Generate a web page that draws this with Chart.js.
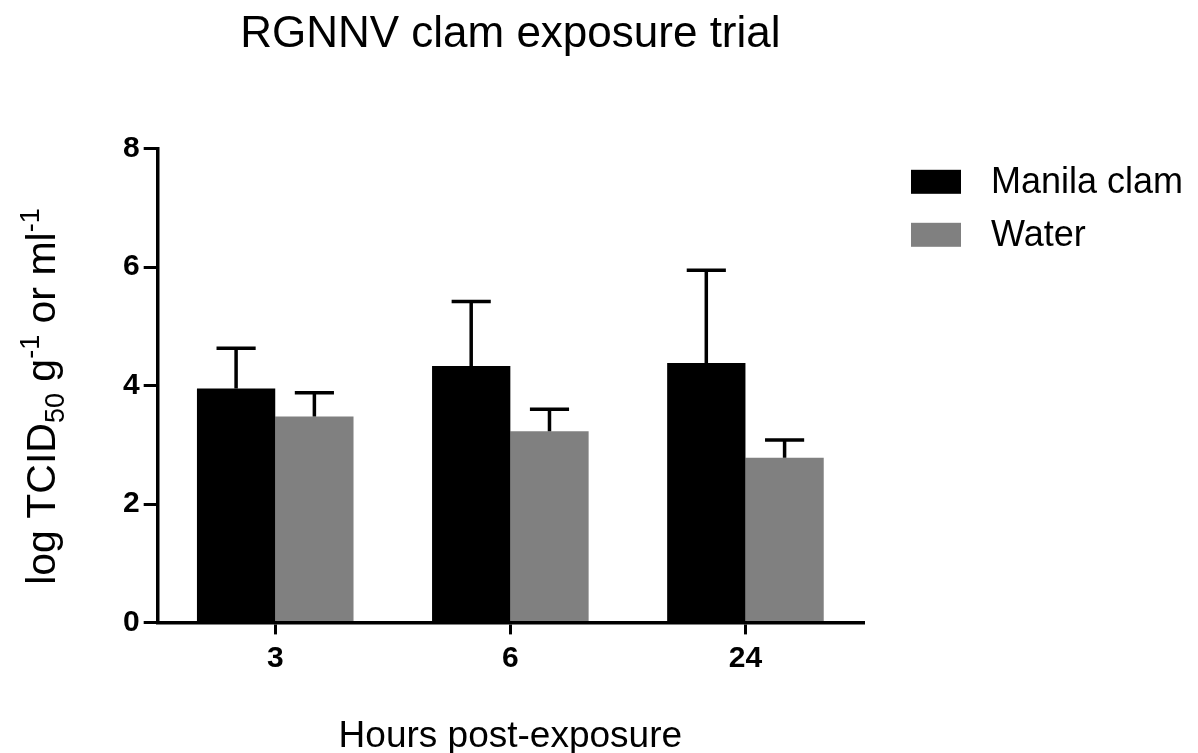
<!DOCTYPE html>
<html>
<head>
<meta charset="utf-8">
<title>RGNNV clam exposure trial</title>
<script src="https://cdn.jsdelivr.net/npm/chart.js@4.4.1/dist/chart.umd.min.js"></script>
<style>
  html, body { margin: 0; padding: 0; background: #fff; }
  #wrap { width: 1198px; height: 753px; position: relative; }
</style>
</head>
<body>
<div id="wrap"><canvas id="chart"></canvas></div>
<script>
// values
const hours = ['3', '6', '24'];
const manilaClam = [3.95, 4.33, 4.38];
const manilaClamErr = [0.68, 1.09, 1.57];
const water = [3.48, 3.23, 2.78];
const waterErr = [0.40, 0.37, 0.30];
const yTicks = [0, 2, 4, 6, 8];

const FONT = "'Liberation Sans', Arial, Helvetica, sans-serif";
Chart.defaults.font.family = FONT;
Chart.defaults.color = '#000';

// upward-only SEM bars with a cap, like Prism draws them
const errorBars = {
  id: 'errorBars',
  afterDatasetsDraw(chart) {
    const { ctx, scales: { y } } = chart;
    chart.data.datasets.forEach((ds, di) => {
      const meta = chart.getDatasetMeta(di);
      meta.data.forEach((bar, i) => {
        const top = y.getPixelForValue(ds.data[i] + ds.errors[i]);
        const half = bar.width / 4;
        ctx.save();
        ctx.strokeStyle = '#000';
        ctx.lineWidth = 3.5;
        ctx.beginPath();
        ctx.moveTo(bar.x, bar.y);
        ctx.lineTo(bar.x, top);
        ctx.moveTo(bar.x - half, top);
        ctx.lineTo(bar.x + half, top);
        ctx.stroke();
        ctx.restore();
      });
    });
  }
};

// legend sits to the right, boxes wider than tall
const sideLegend = {
  id: 'sideLegend',
  afterDraw(chart) {
    const { ctx, chartArea } = chart;
    const x = chartArea.right + 48;
    let y = chartArea.top + 21;
    ctx.save();
    ctx.font = '36px ' + FONT;
    ctx.textBaseline = 'middle';
    ctx.textAlign = 'left';
    chart.data.datasets.forEach(ds => {
      ctx.fillStyle = ds.backgroundColor;
      ctx.fillRect(x, y, 50, 24);
      ctx.fillStyle = '#000';
      ctx.fillText(ds.label, x + 80, y + 13);
      y += 53;
    });
    ctx.restore();
  }
};

// y title with subscript / superscripts
const yTitle = {
  id: 'yTitle',
  afterDraw(chart) {
    const { ctx, chartArea } = chart;
    const size = 41, small = 27;
    const parts = [
      ['log TCID', size, 0],
      ['50', small, 9],
      [' g', size, 0],
      ['-1', small, -16],
      [' or ml', size, 0],
      ['-1', small, -16]
    ];
    ctx.save();
    let total = 0;
    parts.forEach(p => { ctx.font = p[1] + 'px ' + FONT; total += ctx.measureText(p[0]).width; });
    ctx.translate(40, (chartArea.top + chartArea.bottom) / 2 + 11);
    ctx.rotate(-Math.PI / 2);
    ctx.fillStyle = '#000';
    ctx.textBaseline = 'alphabetic';
    ctx.textAlign = 'left';
    let cx = -total / 2;
    parts.forEach(p => {
      ctx.font = p[1] + 'px ' + FONT;
      ctx.fillText(p[0], cx, 15 + p[2]);
      cx += ctx.measureText(p[0]).width;
    });
    ctx.restore();
  }
};

new Chart(document.getElementById('chart'), {
  type: 'bar',
  data: {
    labels: hours,
    datasets: [
      { label: 'Manila clam', data: manilaClam, errors: manilaClamErr, backgroundColor: '#000000' },
      { label: 'Water', data: water, errors: waterErr, backgroundColor: '#808080' }
    ]
  },
  options: {
    responsive: true,
    maintainAspectRatio: false,
    animation: false,
    categoryPercentage: 0.666,
    barPercentage: 1,
    layout: { padding: { left: 119, right: 335, top: 0, bottom: 0 } },
    scales: {
      x: {
        grid: { drawOnChartArea: false, drawTicks: true, tickLength: 12, color: '#000', lineWidth: 3, offset: false },
        border: { display: true, color: '#000', width: 3.5 },
        ticks: { font: { size: 30, weight: 'bold' }, padding: 6, color: '#000' },
        title: {
          display: true,
          text: 'Hours post-exposure',
          font: { size: 37, lineHeight: 0.8 },
          color: '#000',
          padding: { top: 40, bottom: 1 }
        }
      },
      y: {
        min: 0,
        max: 8,
        afterBuildTicks: axis => { axis.ticks = yTicks.map(v => ({ value: v })); },
        grid: { drawOnChartArea: false, drawTicks: true, tickLength: 14, color: '#000', lineWidth: 3 },
        border: { display: true, color: '#000', width: 3.5 },
        ticks: { font: { size: 30, weight: 'bold' }, padding: 4, color: '#000' }
      }
    },
    plugins: {
      legend: { display: false },
      tooltip: { enabled: false },
      title: {
        display: true,
        text: 'RGNNV clam exposure trial',
        fullSize: false,
        font: { size: 44, weight: 'normal' },
        color: '#000',
        padding: { top: 8, bottom: 88 }
      }
    }
  },
  plugins: [errorBars, sideLegend, yTitle]
});
</script>
</body>
</html>
